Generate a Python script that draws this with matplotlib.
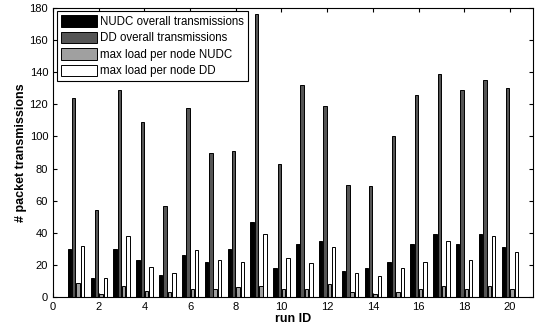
import numpy as np
import matplotlib
matplotlib.use('Agg')
import matplotlib.pyplot as plt

plt.rcParams['font.family'] = ['Liberation Sans', 'DejaVu Sans']

run_ids = list(range(1, 21))
nudc_overall = [30, 12, 30, 23, 14, 26, 22, 30, 47, 18, 33, 35, 16, 18, 22, 33, 39, 33, 39, 31]
dd_overall = [124, 54, 129, 109, 57, 118, 90, 91, 176, 83, 132, 119, 70, 69, 100, 126, 139, 129, 135, 130]
max_nudc = [9, 2, 7, 4, 3, 5, 5, 6, 7, 5, 5, 8, 3, 2, 3, 5, 7, 5, 7, 5]
max_dd = [32, 12, 38, 19, 15, 29, 23, 22, 39, 24, 21, 31, 15, 13, 18, 22, 35, 23, 38, 28]

labels = ['NUDC overall transmissions', 'DD overall transmissions',
          'max load per node NUDC', 'max load per node DD']
colors = ['#000000', '#555555', '#a0a0a0', '#ffffff']


def main():
    fig = plt.figure(figsize=(5.47, 3.33), dpi=100)
    ax = fig.add_axes([0.097, 0.108, 0.877, 0.868])

    x = np.array(run_ids)
    series = [nudc_overall, dd_overall, max_nudc, max_dd]
    w = 0.15
    offsets = [-0.285, -0.095, 0.095, 0.285]
    for vals, off, c, lab in zip(series, offsets, colors, labels):
        ax.bar(x + off, vals, width=w, color=c, edgecolor='black', linewidth=0.7, label=lab)

    ax.set_xlim(0, 21)
    ax.set_ylim(0, 180)
    ax.set_xticks(range(0, 21, 2))
    ax.set_yticks(range(0, 181, 20))
    ax.tick_params(direction='in', top=True, right=True, labelsize=8, length=3)
    ax.set_xlabel('run ID', fontsize=9, fontweight='bold', labelpad=1)
    ax.set_ylabel('# packet transmissions', fontsize=9, fontweight='bold', labelpad=2)

    leg = ax.legend(loc='upper left', prop={'size': 8.3}, fancybox=False, framealpha=1,
                    edgecolor='black', borderaxespad=0.3, handlelength=3.2,
                    handleheight=1.1, handletextpad=0.25, labelspacing=0.35,
                    borderpad=0.35)
    leg.get_frame().set_linewidth(0.8)

    fig.savefig('out.png', dpi=100)


if __name__ == '__main__':
    main()
